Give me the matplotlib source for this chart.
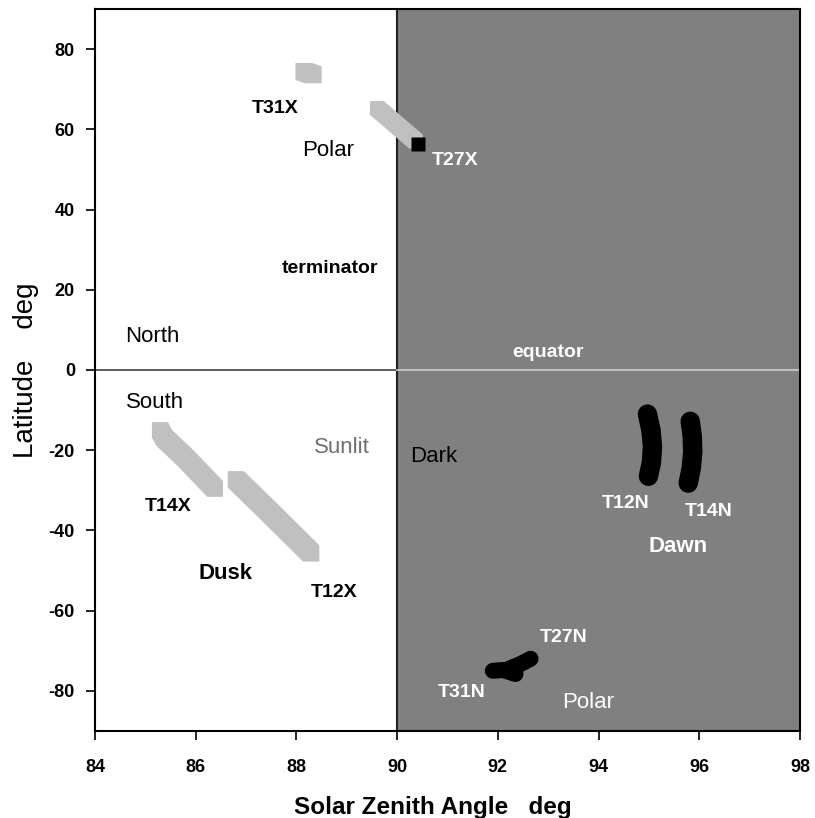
import numpy as np
import matplotlib
matplotlib.use("Agg")
import matplotlib.pyplot as plt

plt.rcParams['font.family'] = ['Liberation Sans', 'DejaVu Sans']
plt.rcParams['axes.unicode_minus'] = False

# Ground tracks (solar zenith angle, latitude)
# dusk side (sunlit) - light gray bands, centre lines
t31x_sza = [88.15, 88.33]
t31x_lat = [74.4, 73.6]
t27x_sza = [89.6, 89.98, 90.37]
t27x_lat = [65.3, 61.2, 57.0]
t14x_sza = [85.29, 85.38, 85.8, 86.38]
t14x_lat = [-15.0, -17.0, -22.0, -29.6]
t12x_sza = [86.8, 87.55, 88.29]
t12x_lat = [-27.3, -36.5, -45.7]

# dawn side (dark) - black traces
t12n_sza = [94.97, 95.04, 95.07, 95.05, 94.99]
t12n_lat = [-11.0, -15.0, -19.0, -23.0, -26.5]
t14n_sza = [95.82, 95.86, 95.87, 95.84, 95.78]
t14n_lat = [-12.8, -16.5, -20.5, -24.5, -28.2]
t31n_sza = [91.9, 92.1, 92.35]
t31n_lat = [-75.0, -74.8, -75.8]
t27n_sza = [92.2, 92.45, 92.65]
t27n_lat = [-74.6, -73.3, -72.0]

# T27X end point marker
t27x_end = (90.42, 56.4)

light = '#c0c0c0'
dark_bg = '#808080'

fig = plt.figure(figsize=(8.15, 8.18), dpi=100)
ax = fig.add_axes([0.1166, 0.1064, 0.865, 0.8826])

ax.set_xlim(84, 98)
ax.set_ylim(-90, 90)


def square_sweep(xs, ys, size_px):
    # outline of a square "pen" of size_px dragged along a down-right path
    fig.canvas.draw()
    bb = ax.get_window_extent()
    hx = size_px / 2 * 14 / bb.width
    hy = size_px / 2 * 180 / bb.height
    px = [xs[0] - hx] + [x + hx for x in xs] + [xs[-1] + hx] + [x - hx for x in xs[::-1]]
    py = [ys[0] + hy] + [y + hy for y in ys] + [ys[-1] - hy] + [y - hy for y in ys[::-1]]
    return px, py


# dark (night) side of the terminator
ax.axvspan(90, 98, color=dark_bg, zorder=0, lw=0)
ax.axvline(90, color='#202020', lw=1.5, zorder=1)
ax.plot([84, 90], [0, 0], color='#404040', lw=1.2, zorder=1)
ax.plot([90, 98], [0, 0], color='#d0d0d0', lw=1.2, zorder=1)

for xs, ys, s in [(t31x_sza, t31x_lat, 16), (t27x_sza, t27x_lat, 13),
                  (t14x_sza, t14x_lat, 15), (t12x_sza, t12x_lat, 15.5)]:
    px, py = square_sweep(xs, ys, s)
    ax.fill(px, py, color=light, lw=0.8, ec=light, joinstyle='round', zorder=2)

ax.plot(*t27x_end, marker='s', ms=9.5, color='black', mec='none', zorder=4)

for xs, ys, lw in [(t12n_sza, t12n_lat, 14), (t14n_sza, t14n_lat, 14),
                   (t31n_sza, t31n_lat, 11.5), (t27n_sza, t27n_lat, 11.5)]:
    ax.plot(xs, ys, color='black', lw=lw, solid_capstyle='round',
            solid_joinstyle='round', zorder=3)

# annotations
bold_dark = dict(fontsize=14, fontweight='bold', color='black', ha='center', va='center')
bold_light = dict(fontsize=14, fontweight='bold', color='white', ha='center', va='center')
plain = dict(fontsize=16, ha='center', va='center')

ax.text(87.57, 65.3, 'T31X', **bold_dark)
ax.text(88.63, 54.8, 'Polar', color='black', **plain)
ax.text(91.15, 52.3, 'T27X', **bold_light)
ax.text(88.67, 25.3, 'terminator', **bold_dark)
ax.text(85.13, 8.4, 'North', color='black', **plain)
ax.text(92.99, 4.4, 'equator', **bold_light)
ax.text(85.19, -8.1, 'South', color='black', **plain)
ax.text(88.9, -19.3, 'Sunlit', color='#707070', **plain)
ax.text(90.73, -21.6, 'Dark', color='black', **plain)
ax.text(85.45, -34.1, 'T14X', **bold_dark)
ax.text(86.6, -50.8, 'Dusk', color='black', fontsize=16, fontweight='bold', ha='center', va='center')
ax.text(88.75, -55.5, 'T12X', **bold_dark)
ax.text(94.54, -33.3, 'T12N', **bold_light)
ax.text(96.19, -35.3, 'T14N', **bold_light)
ax.text(95.58, -44.1, 'Dawn', color='white', fontsize=16, fontweight='bold', ha='center', va='center')
ax.text(93.31, -66.6, 'T27N', **bold_light)
ax.text(91.29, -80.5, 'T31N', **bold_light)
ax.text(93.79, -83.0, 'Polar', color='white', **plain)

ax.set_xticks(np.arange(84, 99, 2))
ax.set_yticks(np.arange(-80, 81, 20))
ax.tick_params(axis='both', direction='out', length=6.5, width=1.2, labelsize=13)
ax.tick_params(axis='x', pad=14)
ax.tick_params(axis='y', pad=8)
for lab in ax.get_xticklabels() + ax.get_yticklabels():
    lab.set_fontweight('bold')
for sp in ax.spines.values():
    sp.set_linewidth(1.5)

ax.set_xlabel('Solar Zenith Angle   deg', fontsize=17.5, fontweight='bold')
ax.xaxis.set_label_coords(0.479, -0.09)
ax.set_ylabel('Latitude    deg', fontsize=20)
ax.yaxis.set_label_coords(-0.08, 0.5)

fig.savefig('out.png', dpi=100)
